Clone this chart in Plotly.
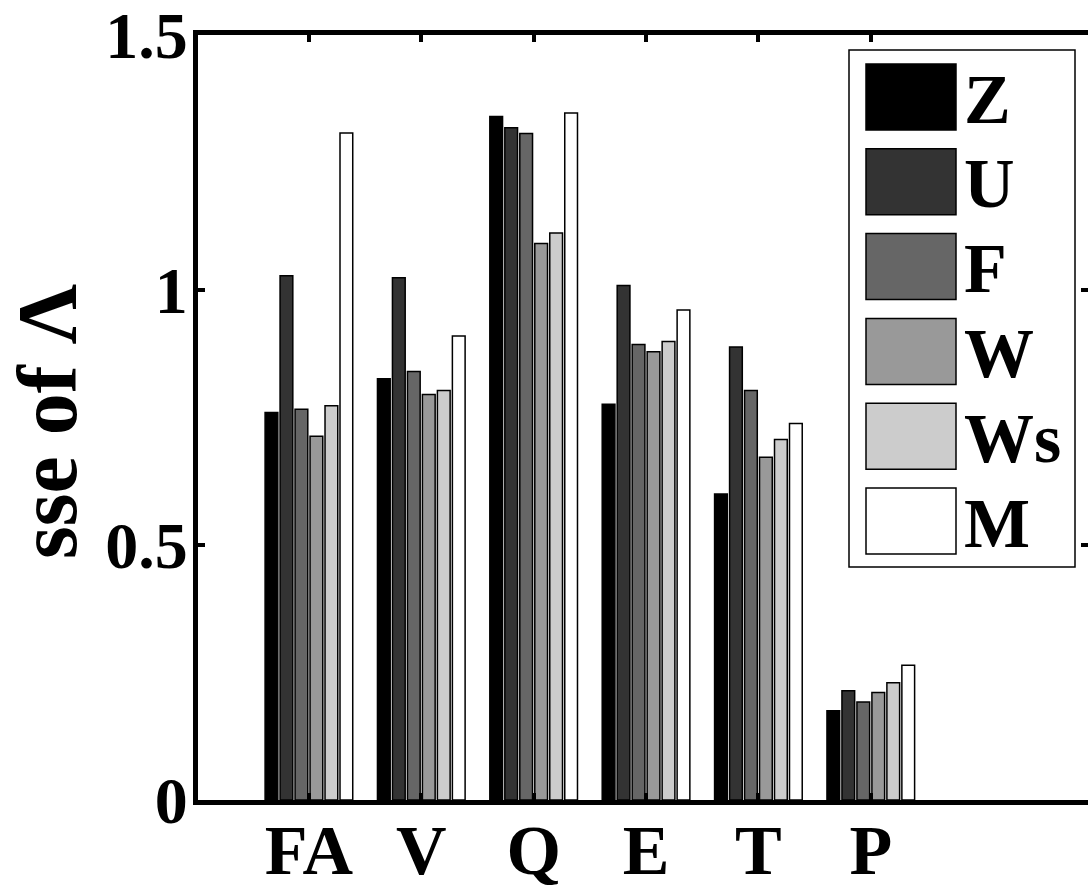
import plotly.graph_objects as go

categories = ["FA", "V", "Q", "E", "T", "P"]
series_names = ["Z", "U", "F", "W", "Ws", "M"]
series_colors = ["#000000", "#333333", "#666666", "#999999", "#cccccc", "#ffffff"]

Z = [0.760, 0.826, 1.340, 0.776, 0.600, 0.175]
U = [1.028, 1.024, 1.318, 1.009, 0.888, 0.214]
F = [0.766, 0.840, 1.307, 0.893, 0.803, 0.192]
Wv = [0.713, 0.795, 1.091, 0.879, 0.672, 0.211]
Ws = [0.773, 0.803, 1.112, 0.899, 0.707, 0.230]
M = [1.308, 0.910, 1.347, 0.961, 0.738, 0.264]
series_values = [Z, U, F, Wv, Ws, M]

y_tickvals = [0, 0.5, 1, 1.5]
y_ticktext = ["0", "0.5", "1", "1.5"]
y_label = "sse of \u039b"

FONT = "Liberation Serif"
W, H = 1088, 888
L, R, T, B = 198, 0, 35, 88

def pxx(px):
    return (px - L) / (W - L - R)

def pxy(py):
    return (H - B - py) / (H - T - B)

fig = go.Figure()
for name, color, vals in zip(series_names, series_colors, series_values):
    fig.add_trace(go.Bar(
        x=categories, y=vals, name=name,
        marker=dict(color=color, line=dict(color="#000000", width=1.5)),
        showlegend=False,
    ))

# custom legend (big MATLAB-style swatches), built from the series lists
shapes = [dict(type="rect", xref="paper", yref="paper",
               x0=pxx(849), x1=pxx(1075), y0=pxy(567), y1=pxy(50),
               line=dict(color="#000000", width=1.5), fillcolor="#ffffff", layer="above")]
annotations = []
for i, (name, color) in enumerate(zip(series_names, series_colors)):
    top = 64 + i * 84.8
    shapes.append(dict(type="rect", xref="paper", yref="paper",
                       x0=pxx(866), x1=pxx(956), y0=pxy(top + 66), y1=pxy(top),
                       line=dict(color="#000000", width=1.5), fillcolor=color, layer="above"))
    annotations.append(dict(xref="paper", yref="paper", x=pxx(962), y=pxy(top + 35),
                            xanchor="left", yanchor="middle", text=name, showarrow=False,
                            font=dict(family=FONT, size=70, color="#000000", weight="bold")))

annotations.append(dict(xref="paper", yref="paper", x=pxx(47), y=pxy(422),
                        xanchor="center", yanchor="middle", text=y_label, textangle=-90,
                        showarrow=False, borderpad=0,
                        font=dict(family=FONT, size=84, color="#000000", weight="bold")))

fig.update_layout(
    width=W, height=H,
    margin=dict(l=L, r=R, t=T, b=B, pad=0),
    paper_bgcolor="#ffffff", plot_bgcolor="#ffffff",
    barmode="group", bargap=0.2, bargroupgap=0.15,
    shapes=shapes, annotations=annotations,
    showlegend=False,
)
fig.update_xaxes(
    type="category", range=[-0.987, 6.933], automargin=False,
    showline=True, linecolor="#000000", linewidth=5, mirror="allticks",
    ticks="inside", ticklen=7, tickwidth=4, tickcolor="#000000",
    showgrid=False, zeroline=False, ticklabeloverflow="allow",
    tickfont=dict(family=FONT, size=70, color="#000000", weight="bold"),
    ticklabelstandoff=-15,
)
fig.update_yaxes(
    range=[0, 1.5], tickvals=y_tickvals, ticktext=y_ticktext, automargin=False,
    showline=True, linecolor="#000000", linewidth=5, mirror="allticks",
    ticks="inside", ticklen=7, tickwidth=4, tickcolor="#000000",
    showgrid=False, zeroline=False, ticklabeloverflow="allow",
    tickfont=dict(family=FONT, size=66, color="#000000", weight="bold"),
    ticklabelstandoff=-8,
)

fig.write_html("out.html")
